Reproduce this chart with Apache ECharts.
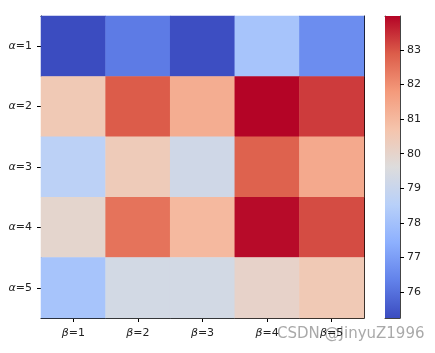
<!DOCTYPE html>
<html>
<head>
<meta charset="utf-8">
<script src="https://cdn.jsdelivr.net/npm/echarts@6/dist/echarts.min.js"></script>
<style>
html, body { margin: 0; background: #fff; }
#chart { width: 435px; height: 353px; }
</style>
</head>
<body>
<div id="chart"></div>
<script>
// labels
var betaNames = ['1', '2', '3', '4', '5'];
var alphaNames = ['1', '2', '3', '4', '5'];

// cell values, one row per alpha
var alpha1 = [75.25, 76.2, 75.3, 78.1, 76.6];
var alpha2 = [80.5, 82.9, 81.3, 83.98, 83.3];
var alpha3 = [78.65, 80.4, 79.2, 82.8, 81.4];
var alpha4 = [79.95, 82.5, 81.0, 83.9, 83.1];
var alpha5 = [78.1, 79.3, 79.3, 80.05, 80.5];

var cbTicks = [76, 77, 78, 79, 80, 81, 82, 83];

// matplotlib coolwarm sampled at 9 points
var coolwarm = ['#3b4cc0', '#6282ea', '#8db0fe', '#b8d0f9', '#dddcdc',
                '#f5c4ac', '#f49a7b', '#dc5d4a', '#b40426'];

var rows = [alpha1, alpha2, alpha3, alpha4, alpha5];
var cells = [];
var all = [];
rows.forEach(function (r, yi) {
	r.forEach(function (v, xi) {
		cells.push([xi, yi, v]);
		all.push(v);
	});
});
var vmin = Math.min.apply(null, all);
var vmax = Math.max.apply(null, all);

var txt = { color: '#222', fontSize: 11, fontFamily: 'DejaVu Sans' };
var lineStyle = { color: '#000', width: 1 };

var chart = echarts.init(document.getElementById('chart'));
chart.setOption({
	animation: false,
	grid: [
		{ left: 41, top: 16, width: 323, height: 302 },
		{ left: 385, top: 16, width: 15, height: 302 }
	],
	xAxis: [
		{
			gridIndex: 0, type: 'category', data: betaNames, position: 'bottom',
			axisLine: { show: true, lineStyle: lineStyle },
			axisTick: { show: true, alignWithLabel: true, length: 4, lineStyle: lineStyle },
			axisLabel: {
				margin: 10, color: txt.color, fontSize: txt.fontSize, fontFamily: txt.fontFamily,
				formatter: function (v) { return '{g|β}=' + v; },
				rich: { g: { fontStyle: 'italic', fontSize: 11, fontFamily: 'DejaVu Sans', color: '#222' } }
			},
			splitLine: { show: false }
		},
		{
			gridIndex: 0, type: 'category', data: betaNames, position: 'top',
			axisLine: { show: true, lineStyle: lineStyle },
			axisTick: { show: false }, axisLabel: { show: false }
		},
		{
			gridIndex: 1, type: 'category', data: ['c'], position: 'bottom',
			axisLine: { show: true, lineStyle: { color: '#444', width: 1 } },
			axisTick: { show: false }, axisLabel: { show: false }
		},
		{
			gridIndex: 1, type: 'category', data: ['c'], position: 'top',
			axisLine: { show: true, lineStyle: { color: '#444', width: 1 } },
			axisTick: { show: false }, axisLabel: { show: false }
		}
	],
	yAxis: [
		{
			gridIndex: 0, type: 'category', data: alphaNames, inverse: true, position: 'left',
			axisLine: { show: true, lineStyle: lineStyle },
			axisTick: { show: true, alignWithLabel: true, length: 4, lineStyle: lineStyle },
			axisLabel: {
				margin: 9, color: txt.color, fontSize: txt.fontSize, fontFamily: txt.fontFamily,
				formatter: function (v) { return '{a|α}=' + v; },
				rich: { a: { fontStyle: 'italic', fontSize: 11, fontFamily: 'DejaVu Sans', color: '#222' } }
			},
			splitLine: { show: false }
		},
		{
			gridIndex: 0, type: 'category', data: alphaNames, inverse: true, position: 'right',
			axisLine: { show: true, lineStyle: lineStyle },
			axisTick: { show: false }, axisLabel: { show: false }
		},
		{
			gridIndex: 1, type: 'value', min: vmin, max: vmax, position: 'left',
			axisLine: { show: true, lineStyle: { color: '#666', width: 1 } },
			axisTick: { show: false }, axisLabel: { show: false }, splitLine: { show: false }
		},
		{
			gridIndex: 1, type: 'value', min: vmin, max: vmax, position: 'right',
			axisLine: { show: true, lineStyle: { color: '#444', width: 1 } },
			axisTick: { show: true, length: 4, customValues: cbTicks, lineStyle: lineStyle },
			axisLabel: {
				margin: 7, color: txt.color, fontSize: txt.fontSize, fontFamily: txt.fontFamily,
				customValues: cbTicks
			},
			splitLine: { show: false }
		}
	],
	visualMap: {
		show: false, type: 'continuous', seriesIndex: 0, dimension: 2,
		min: vmin, max: vmax, inRange: { color: coolwarm }
	},
	series: [
		{
			type: 'heatmap', xAxisIndex: 0, yAxisIndex: 0, data: cells,
			itemStyle: { borderWidth: 0 }
		},
		{
			type: 'bar', xAxisIndex: 2, yAxisIndex: 3, data: [vmax], barWidth: '100%', z: 1,
			itemStyle: {
				color: new echarts.graphic.LinearGradient(0, 1, 0, 0,
					coolwarm.map(function (c, i) { return { offset: i / (coolwarm.length - 1), color: c }; }))
			}
		}
	],
	graphic: [
		{
			type: 'text', left: 277, top: 327,
			style: { text: 'CSDN @JinyuZ1996', fontSize: 15, fontFamily: 'DejaVu Sans', fill: 'rgba(140,140,140,0.75)' }
		}
	]
});
</script>
</body>
</html>
